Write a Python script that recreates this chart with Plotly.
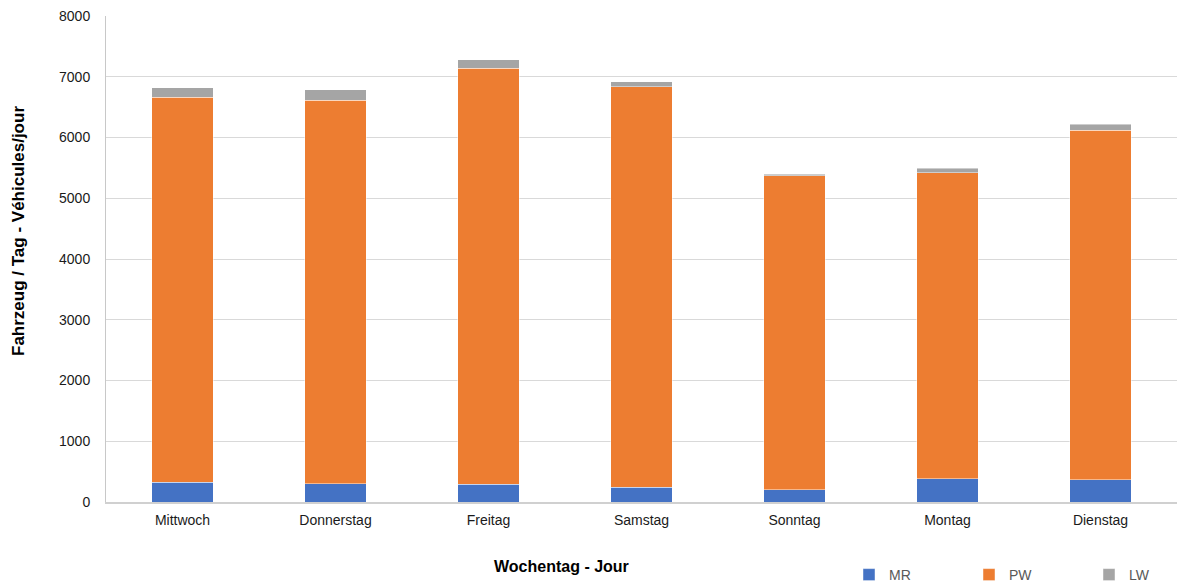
import plotly.graph_objects as go

days = ["Mittwoch", "Donnerstag", "Freitag", "Samstag", "Sonntag", "Montag", "Dienstag"]
mr = [329, 301, 291, 242, 203, 379, 368]
pw = [6332, 6311, 6848, 6594, 5168, 5041, 5755]
lw = [159, 175, 141, 82, 28, 78, 99]
y_ticks = [0, 1000, 2000, 3000, 4000, 5000, 6000, 7000, 8000]

W, H = 1177, 584
L, R, T, B = 106, 0, 16, 82
PW_ = W - L - R
PH_ = H - T - B


def px(x):
    return (x - L) / PW_


def py(y):
    return (H - B - y) / PH_


fig = go.Figure()
line = dict(color="rgba(255,255,255,0.45)", width=1)
fig.add_trace(go.Bar(x=days, y=mr, name="MR", marker=dict(color="#4472C4", line=line)))
fig.add_trace(go.Bar(x=days, y=pw, name="PW", marker=dict(color="#ED7D31", line=line)))
fig.add_trace(go.Bar(x=days, y=lw, name="LW", marker=dict(color="#A5A5A5", line=line)))

fig.update_layout(
    width=W, height=H,
    barmode="stack", bargap=0.6,
    margin=dict(l=L, r=R, t=T, b=B, autoexpand=False),
    plot_bgcolor="white", paper_bgcolor="white",
    font=dict(family="Liberation Sans, Arial, sans-serif", size=14, color="#404040"),
    legend=dict(orientation="h", x=849 / W, xanchor="left", y=(H - 575) / H, yanchor="middle",
                yref="container", xref="container", entrywidth=75, font=dict(size=14, color="#595959"),
                itemwidth=30, traceorder="normal"),
    annotations=[
        dict(text="<b>Fahrzeug / Tag - Véhicules/jour</b>", textangle=-90,
             x=px(18), y=py(231), xref="paper", yref="paper", showarrow=False,
             xanchor="center", yanchor="middle",
             font=dict(size=17, color="#000000")),
        dict(text="<b>Wochentag - Jour</b>",
             x=px(561), y=py(566), xref="paper", yref="paper", showarrow=False,
             xanchor="center", yanchor="middle",
             font=dict(size=16, color="#000000")),
    ],
)
fig.update_xaxes(showline=True, linecolor="#D0D0D0", linewidth=1.5, ticks="",
                 tickfont=dict(size=14, color="#1a1a1a"), showgrid=False, ticklabelstandoff=4)
fig.update_yaxes(range=[0, 8000], tickvals=y_ticks, showline=True, linecolor="#C8C8C8",
                 linewidth=1, gridcolor="#D9D9D9", gridwidth=1, zeroline=False,
                 tickfont=dict(size=14, color="#1a1a1a"), ticks="", ticklabelstandoff=12)

fig.write_html("out.html")
